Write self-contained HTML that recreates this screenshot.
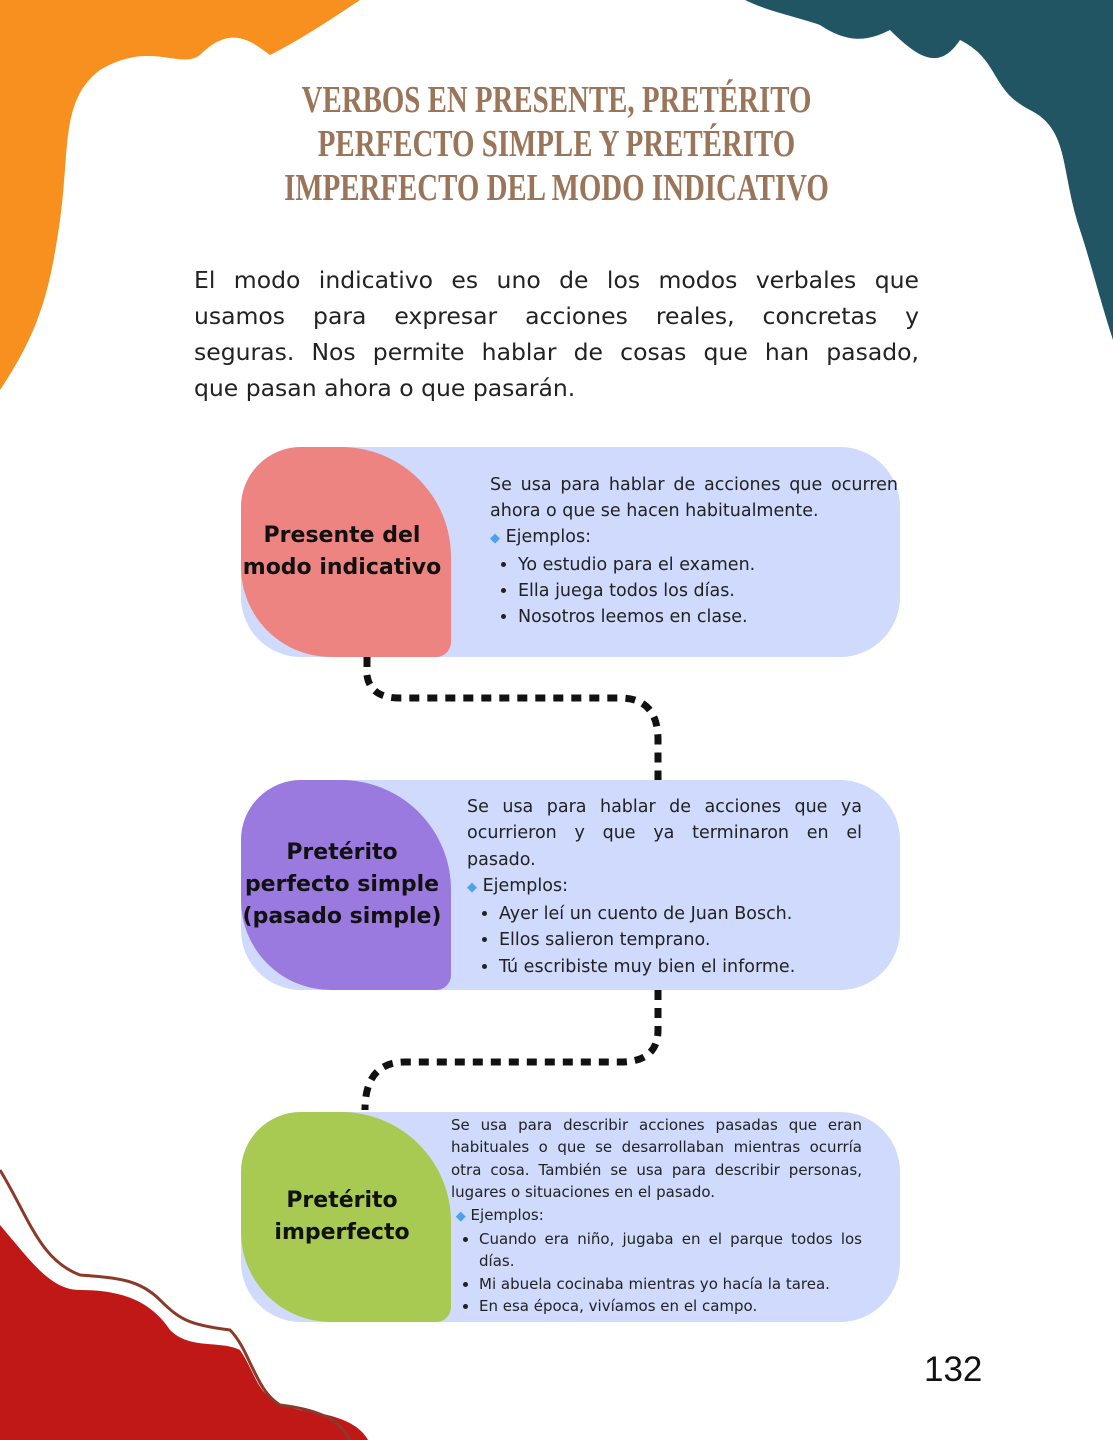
<!DOCTYPE html>
<html><head><meta charset="utf-8"><style>
body{margin:0;width:1113px;height:1440px;position:relative;background:#fff;overflow:hidden;font-family:"Liberation Sans","DejaVu Sans",sans-serif}
.t{position:absolute;left:0;width:1113px;text-align:center;top:78px;color:#9a7559;font-family:"Liberation Serif",serif;font-weight:bold;font-size:38px;line-height:44px;text-transform:uppercase;transform:scaleX(0.76);white-space:nowrap}
.p{position:absolute;left:194px;width:725px;top:262px;font-family:"DejaVu Sans",sans-serif;font-size:23.5px;line-height:36px;color:#222}
.p div{text-align:justify;text-align-last:justify;height:36px}
.bg{position:absolute;left:241px;width:659px;height:210px;background:#cfdafc;border-radius:60px 60px 60px 60px}
.lab{position:absolute;left:241px;width:202px;padding-right:8px;height:210px;border-radius:60px 110px 15px 90px;display:flex;align-items:center;justify-content:center;text-align:center;font-family:"DejaVu Sans",sans-serif;font-weight:bold;font-size:22px;line-height:32px;color:#111}
.tx{position:absolute;color:#222;font-family:"DejaVu Sans",sans-serif;text-align:justify}
.tx ul{margin:0;padding-left:28px}
.dm{color:#4aa3e8;font-size:13px}
</style></head><body>
<svg width="1113" height="1440" style="position:absolute;left:0;top:0">
<path d="M0 0 H360 C330 20 300 40 270 55 C250 40 230 25 200 55 C180 70 150 40 100 70 C60 100 70 150 60 220 C50 290 40 330 0 390 Z" fill="#f7901e"/>
<path d="M745 0 H1113 V340 C1100 300 1090 260 1080 230 C1060 170 1070 130 1030 110 C990 90 1000 60 960 40 C940 70 920 60 890 30 C870 40 850 45 820 25 C790 15 770 12 745 0 Z" fill="#225563"/>
<path d="M0 1225 C30 1260 50 1290 80 1290 C120 1290 150 1300 170 1330 C190 1350 220 1340 240 1350 C260 1380 255 1400 300 1410 C340 1415 360 1425 368 1440 H0 Z" fill="#c01717"/>
<path d="M0 1170 C30 1220 40 1260 80 1275 C120 1278 140 1280 160 1300 C180 1320 190 1325 230 1330 C250 1350 255 1390 280 1405 C320 1410 340 1420 350 1440" fill="none" stroke="#8b3a2a" stroke-width="3"/>
<path d="M367 657 V675 Q370 698 400 698 H620 Q658 698 658 740 V780" fill="none" stroke="#111" stroke-width="7" stroke-dasharray="10 8"/>
<path d="M658 990 V1030 Q658 1062 620 1062 H405 Q365 1062 365 1110" fill="none" stroke="#111" stroke-width="7" stroke-dasharray="10 8"/>
</svg>
<div class="t">Verbos en presente, pretérito<br>perfecto simple y pretérito<br>imperfecto del modo indicativo</div>
<div class="p"><div>El modo indicativo es uno de los modos verbales que</div><div>usamos para expresar acciones reales, concretas y</div><div>seguras. Nos permite hablar de cosas que han pasado,</div><div style="text-align-last:left">que pasan ahora o que pasarán.</div></div>

<div class="bg" style="top:447px"></div>
<div class="lab" style="top:447px;background:#ed8481">Presente del<br>modo indicativo</div>
<div class="tx" style="left:490px;top:472px;width:408px;font-size:17.5px;line-height:26px">Se usa para hablar de acciones que ocurren ahora o que se hacen habitualmente.<br><span class="dm">◆</span> Ejemplos:<ul><li>Yo estudio para el examen.</li><li>Ella juega todos los días.</li><li>Nosotros leemos en clase.</li></ul></div>

<div class="bg" style="top:780px"></div>
<div class="lab" style="top:780px;background:#9b7ae0">Pretérito<br>perfecto simple<br>(pasado simple)</div>
<div class="tx" style="left:467px;top:794px;width:395px;font-size:17.5px;line-height:26.3px">Se usa para hablar de acciones que ya ocurrieron y que ya terminaron en el pasado.<br><span class="dm">◆</span> Ejemplos:<ul style="padding-left:32px"><li>Ayer leí un cuento de Juan Bosch.</li><li>Ellos salieron temprano.</li><li>Tú escribiste muy bien el informe.</li></ul></div>

<div class="bg" style="top:1112px"></div>
<div class="lab" style="top:1112px;background:#a8c952">Pretérito<br>imperfecto</div>
<div class="tx" style="left:451px;top:1114px;width:411px;font-size:15px;line-height:22.4px">Se usa para describir acciones pasadas que eran habituales o que se desarrollaban mientras ocurría otra cosa. También se usa para describir personas, lugares o situaciones en el pasado.<br>&nbsp;<span class="dm">◆</span> Ejemplos:<ul><li>Cuando era niño, jugaba en el parque todos los días.</li><li>Mi abuela cocinaba mientras yo hacía la tarea.</li><li>En esa época, vivíamos en el campo.</li></ul></div>

<div style="position:absolute;left:924px;top:1350px;font-size:35px;color:#111">132</div>
</body></html>
